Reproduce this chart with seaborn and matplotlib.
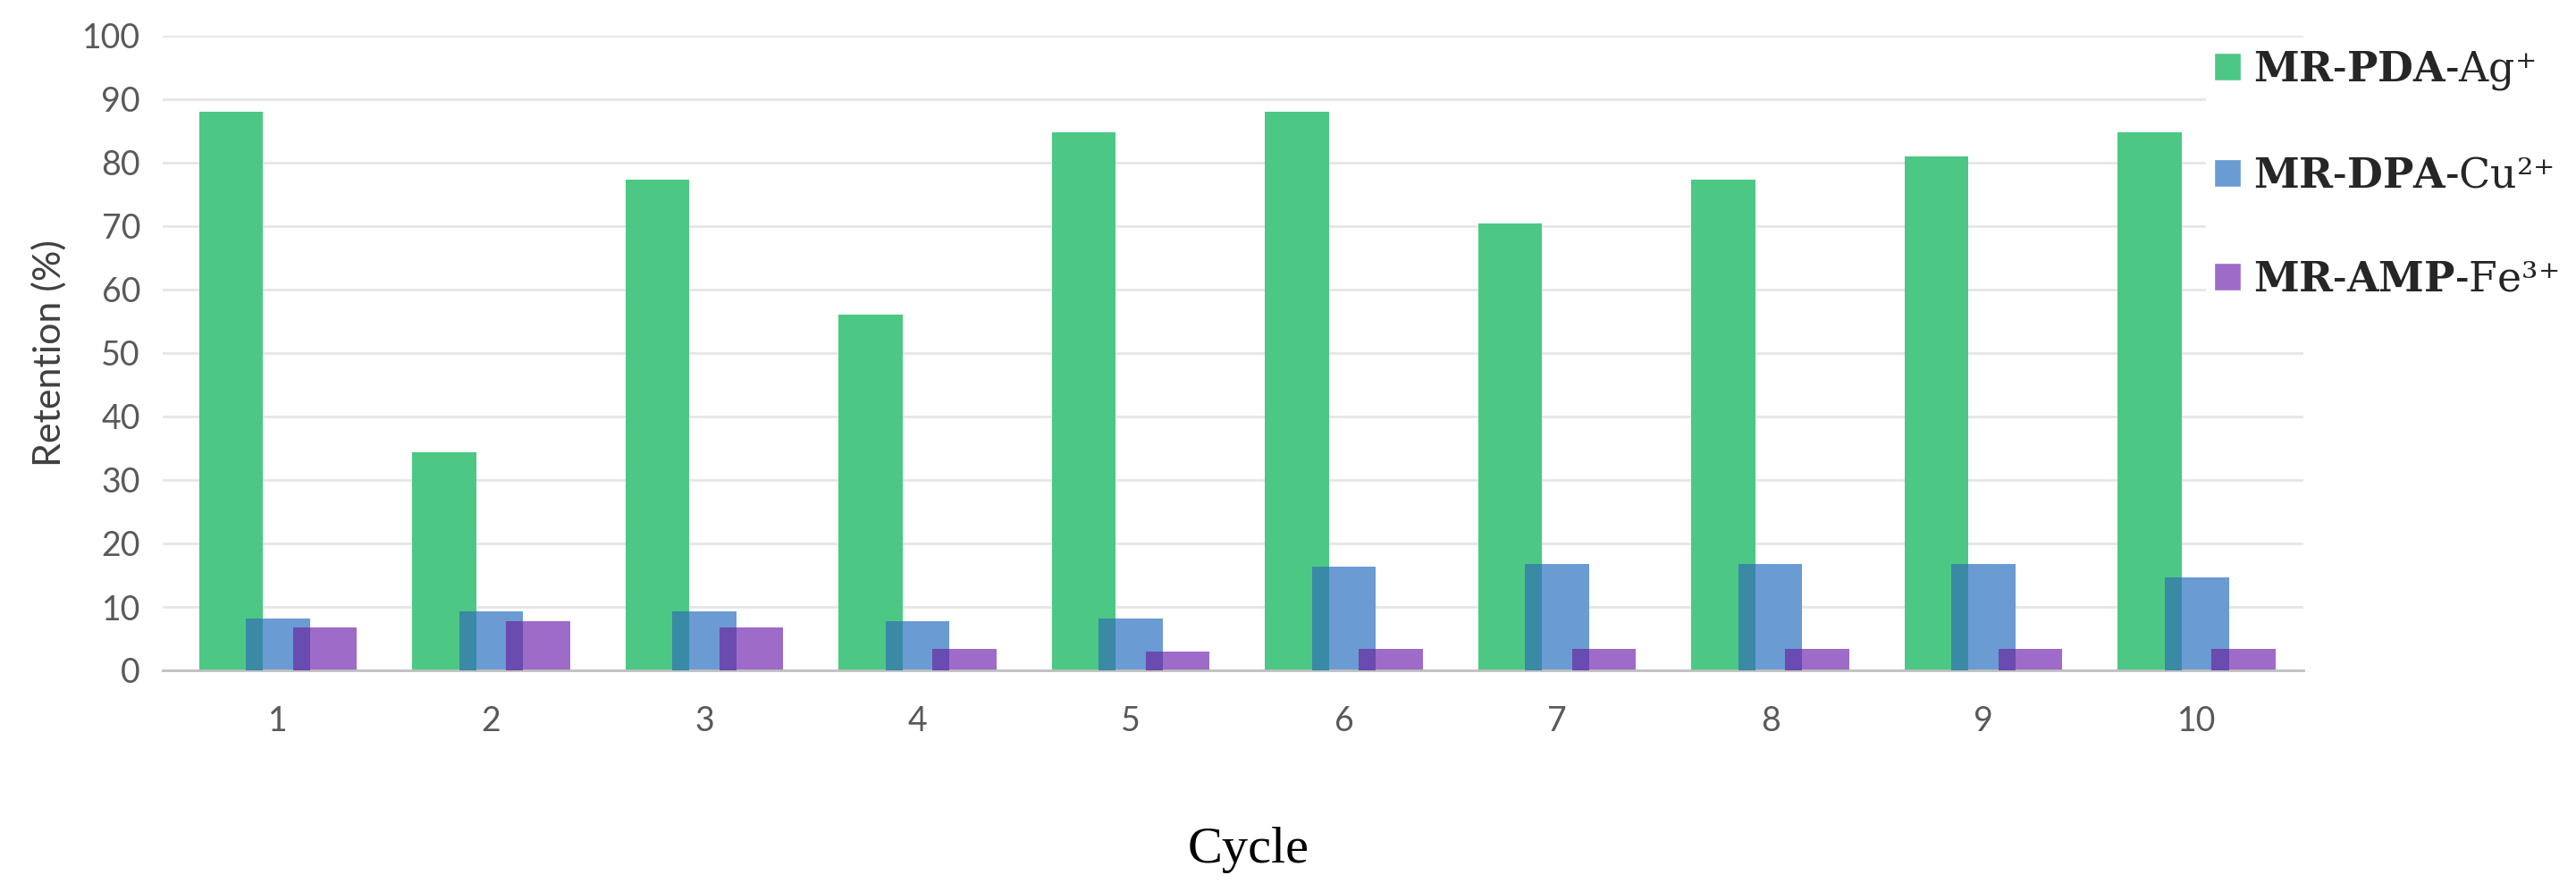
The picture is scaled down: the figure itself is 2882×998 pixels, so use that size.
import matplotlib
matplotlib.use("Agg")
import matplotlib.pyplot as plt
from matplotlib.patches import Rectangle
import pandas as pd
import seaborn as sns

# данные
cycles = [1, 2, 3, 4, 5, 6, 7, 8, 9, 10]
series = ["MR-PDA-Ag+", "MR-DPA-Cu2+", "MR-AMP-Fe3+"]
pda_ag = [88, 34.3, 77.3, 56.1, 84.8, 88, 70.4, 77.3, 81, 84.8]
dpa_cu = [8.2, 9.3, 9.3, 7.7, 8.2, 16.3, 16.8, 16.8, 16.8, 14.6]
amp_fe = [6.7, 7.7, 6.7, 3.4, 3.0, 3.4, 3.4, 3.4, 3.4, 3.4]
legend_labels = [r"$\mathbf{MR\text{-}PDA}$-Ag⁺",
                 r"$\mathbf{MR\text{-}DPA}$-Cu²⁺",
                 r"$\mathbf{MR\text{-}AMP}$-Fe³⁺"]

colors = ["#4CC884", "#6A9BD3", "#9E6BC8"]
overlap_colors = ["#3A8AA6", "#6A4BB0"]

df = pd.DataFrame({
    "Cycle": cycles * 3,
    "Retention": pda_ag + dpa_cu + amp_fe,
    "Material": [s for s in series for _ in cycles],
})

sns.set_style("white")
plt.rcParams["mathtext.fontset"] = "custom"
plt.rcParams["mathtext.rm"] = "DejaVu Serif"
plt.rcParams["mathtext.bf"] = "DejaVu Serif:bold"
plt.rcParams["mathtext.it"] = "DejaVu Serif:italic"

fig = plt.figure(figsize=(28.82, 9.98), dpi=100)
ax = fig.add_axes([182 / 2882, 1 - 750 / 998, (2577 - 182) / 2882, (750 - 40) / 998])

sns.barplot(data=df, x="Cycle", y="Retention", hue="Material", hue_order=series,
            palette=colors, width=0.66, saturation=1, ax=ax, zorder=2)

# расширяем полоски, чтобы соседние перекрывались
bw = 0.30
for p in ax.patches:
    c = p.get_x() + p.get_width() / 2
    p.set_width(bw)
    p.set_x(c - bw / 2)
    p.set_edgecolor("none")

# затемнённые зоны перекрытия
n = len(cycles)
bars = [ax.patches[i * n:(i + 1) * n] for i in range(3)]
for k in range(2):
    for left, right in zip(bars[k], bars[k + 1]):
        x0 = right.get_x()
        x1 = left.get_x() + left.get_width()
        h = min(left.get_height(), right.get_height())
        ax.add_patch(Rectangle((x0, 0), x1 - x0, h, facecolor=overlap_colors[k],
                               edgecolor="none", zorder=3))

ax.set_ylim(0, 100)
ax.set_xlim(-0.54, 9.5)
ax.set_yticks(range(0, 101, 10))
ax.yaxis.grid(True, color="#E6E6E6", linewidth=2, zorder=0)
ax.set_axisbelow(True)
for s in ["left", "right", "top"]:
    ax.spines[s].set_visible(False)
ax.spines["bottom"].set_color("#BFBFBF")
ax.spines["bottom"].set_linewidth(2)
ax.tick_params(axis="both", length=0, labelsize=27, labelcolor="#595959")
ax.tick_params(axis="y", pad=18)
ax.tick_params(axis="x", pad=28)
for t in ax.get_xticklabels() + ax.get_yticklabels():
    t.set_fontfamily("Lato")

ax.set_ylabel("Retention (%)", fontsize=31, color="#404040", family="Lato", labelpad=12)
ax.set_xlabel("Cycle", fontsize=42, color="black", family="Liberation Serif", labelpad=72)
ax.xaxis.label.set_x(0.507)

handles = ax.get_legend().legend_handles
ax.get_legend().remove()
leg = fig.legend(handles, legend_labels, loc="upper left",
                 bbox_to_anchor=(2468 / 2882, 1 - 46 / 998),
                 prop={"family": "DejaVu Serif", "size": 33},
                 frameon=True, facecolor="white", edgecolor="none", framealpha=1,
                 handlelength=0.66, handleheight=0.66, handletextpad=0.3,
                 labelspacing=1.55, borderpad=0.2, borderaxespad=0)

fig.savefig("out.png", dpi=100)
